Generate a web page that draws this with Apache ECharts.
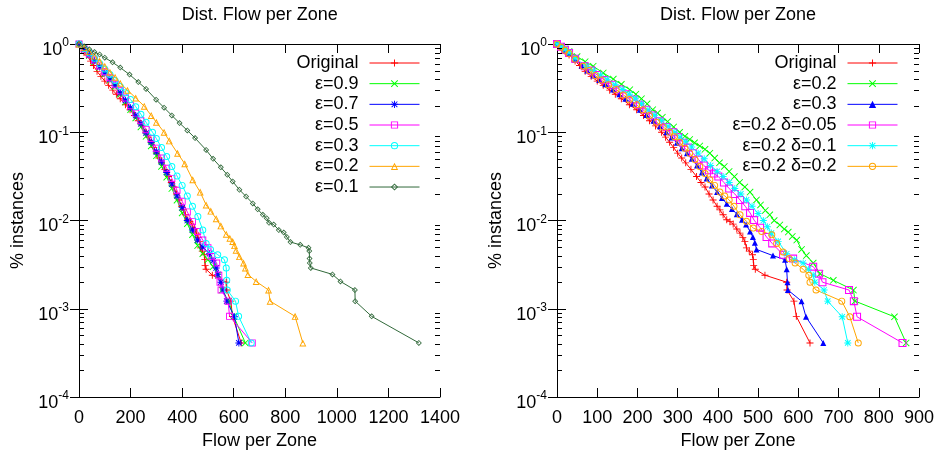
<!DOCTYPE html>
<html><head><meta charset="utf-8">
<script src="https://cdn.jsdelivr.net/npm/echarts/dist/echarts.min.js"></script>
<style>html,body{margin:0;padding:0;background:#fff}#c{width:941px;height:452px}</style>
</head><body><div id="c"></div>
<script>
// ---------- data (x = flow per zone, y = fraction of instances) ----------
const titleText = 'Dist. Flow per Zone';
const xName = 'Flow per Zone';
const yName = '% instances';
const xTicksLeft = {min: 0, max: 1400, step: 200};
const xTicksRight = {min: 0, max: 900, step: 100};
const yRange = {min: 0.0001, max: 1};

const leftNames = ['Original', 'ε=0.9', 'ε=0.7', 'ε=0.5', 'ε=0.3', 'ε=0.2', 'ε=0.1'];
const rightNames = ['Original', 'ε=0.2', 'ε=0.3', 'ε=0.2 δ=0.05', 'ε=0.2 δ=0.1', 'ε=0.2 δ=0.2'];

const original = [[0,1.0],[10,0.91],[20,0.83],[30,0.75],[45,0.64],[56,0.57],[70,0.49],[85,0.43],[100,0.38],[115,0.34],[131,0.30],[145,0.27],[160,0.24],[180,0.205],[198,0.18],[215,0.155],[230,0.135],[245,0.118],[260,0.100],[270,0.088],[280,0.077],[290,0.067],[300,0.058],[310,0.051],[320,0.045],[333,0.038],[347,0.0315],[358,0.027],[368,0.024],[378,0.020],[388,0.0171],[398,0.0145],[405,0.0132],[413,0.0116],[422,0.0102],[430,0.0097],[438,0.0091],[447,0.0080],[455,0.0072],[462,0.0064],[467,0.0058],[471,0.0049],[478,0.0045],[486,0.0041],[488,0.0036],[489,0.0031],[493,0.0028],[517,0.0024],[571,0.0020],[572,0.00163],[589,0.00122],[595,0.00082],[629,0.00041]];

const eps09 = [[0,1],[20,0.86],[40,0.74],[60,0.63],[80,0.54],[100,0.46],[120,0.39],[140,0.33],[160,0.27],[180,0.22],[200,0.18],[220,0.145],[240,0.115],[260,0.090],[280,0.070],[300,0.054],[320,0.041],[340,0.031],[360,0.023],[380,0.017],[400,0.0122],[420,0.0092],[440,0.0069],[460,0.0052],[480,0.0042],[500,0.0036],[520,0.0030],[540,0.0024],[555,0.00163],[580,0.00122],[600,0.00082],[645,0.00041]];

const eps07 = [[0,1],[20,0.87],[40,0.75],[60,0.645],[80,0.55],[100,0.47],[120,0.40],[140,0.34],[160,0.28],[180,0.23],[200,0.19],[220,0.155],[240,0.125],[260,0.098],[280,0.077],[300,0.060],[320,0.046],[340,0.035],[360,0.026],[380,0.019],[400,0.014],[420,0.0100],[440,0.0078],[460,0.0060],[480,0.0050],[506,0.0042],[520,0.0035],[532,0.0029],[538,0.00245],[550,0.0020],[560,0.00163],[573,0.00122],[603,0.00081],[620,0.00041]];

const eps05 = [[0,1],[20,0.88],[40,0.77],[60,0.66],[80,0.565],[100,0.485],[120,0.415],[140,0.35],[160,0.295],[180,0.245],[200,0.20],[220,0.165],[240,0.135],[260,0.107],[280,0.085],[300,0.066],[320,0.051],[340,0.039],[360,0.030],[380,0.022],[400,0.0165],[420,0.0125],[440,0.0097],[460,0.0075],[480,0.0060],[500,0.0049],[513,0.0039],[534,0.0033],[542,0.0024],[547,0.0020],[551,0.00163],[578,0.00122],[584,0.00082],[672,0.00041]];

const eps03 = [[0,1],[20,0.89],[40,0.79],[60,0.69],[80,0.60],[100,0.52],[120,0.45],[140,0.385],[160,0.33],[180,0.28],[200,0.235],[220,0.195],[240,0.16],[260,0.13],[285,0.10],[300,0.085],[320,0.067],[340,0.053],[360,0.041],[380,0.032],[400,0.025],[420,0.019],[440,0.0145],[461,0.0111],[480,0.0078],[493,0.0055],[510,0.0047],[538,0.0041],[564,0.0036],[571,0.0029],[573,0.0021],[575,0.00163],[607,0.00122],[619,0.00082],[668,0.00041]];

const eps02 = [[0,1],[20,0.91],[40,0.82],[60,0.73],[80,0.64],[100,0.56],[120,0.48],[140,0.42],[160,0.36],[188,0.30],[220,0.245],[253,0.197],[280,0.155],[300,0.13],[330,0.10],[350,0.08],[382,0.058],[410,0.044],[441,0.029],[470,0.021],[493,0.0150],[511,0.0128],[532,0.0105],[550,0.0087],[571,0.0070],[585,0.0063],[596,0.0058],[603,0.0052],[609,0.0046],[622,0.0039],[638,0.0033],[645,0.0029],[655,0.00245],[687,0.00204],[735,0.00163],[741,0.00122],[838,0.00082],[868,0.00041]];

const eps01 = [[0,1],[20,0.94],[40,0.87],[60,0.81],[80,0.76],[100,0.70],[130,0.62],[160,0.54],[196,0.45],[230,0.37],[260,0.31],[299,0.234],[330,0.19],[360,0.155],[390,0.127],[420,0.105],[450,0.086],[493,0.063],[520,0.050],[550,0.040],[575,0.033],[596,0.0277],[622,0.0223],[648,0.0187],[674,0.0156],[693,0.0134],[713,0.0116],[728,0.0106],[737,0.0094],[755,0.0090],[775,0.0078],[794,0.0073],[806,0.0065],[820,0.0057],[858,0.0053],[890,0.0049],[893,0.0045],[894,0.0037],[895,0.0033],[899,0.0029],[983,0.00245],[1014,0.00204],[1070,0.00163],[1071,0.00122],[1135,0.00082],[1318,0.00041]];

const rEps02 = [[0,1.0],[10,0.94],[20,0.88],[30,0.82],[50,0.72],[70,0.63],[90,0.56],[115,0.47],[140,0.40],[160,0.35],[181,0.304],[196,0.27],[210,0.24],[224,0.21],[238,0.18],[250,0.165],[262,0.148],[275,0.132],[290,0.115],[305,0.100],[318,0.090],[330,0.083],[342,0.076],[355,0.070],[368,0.064],[380,0.058],[392,0.051],[404,0.045],[416,0.041],[428,0.036],[441,0.0315],[454,0.027],[467,0.024],[480,0.021],[496,0.0171],[506,0.015],[518,0.013],[529,0.0116],[540,0.0100],[554,0.0089],[565,0.0080],[575,0.0074],[585,0.0066],[596,0.0060],[608,0.0047],[620,0.0040],[637,0.0033],[654,0.0025],[687,0.0021],[737,0.00163],[741,0.00122],[839,0.00081],[868,0.00041]];

const rEps03 = [[0,1.0],[10,0.92],[20,0.84],[30,0.77],[45,0.66],[61,0.57],[75,0.50],[90,0.44],[105,0.39],[120,0.35],[139,0.305],[155,0.27],[170,0.24],[188,0.21],[206,0.18],[222,0.157],[240,0.135],[256,0.117],[272,0.100],[285,0.087],[298,0.076],[310,0.066],[323,0.058],[335,0.050],[348,0.042],[360,0.035],[372,0.030],[385,0.025],[398,0.021],[410,0.018],[422,0.0155],[435,0.0135],[447,0.0118],[460,0.0102],[470,0.0090],[480,0.0075],[487,0.0065],[492,0.0056],[496,0.0047],[537,0.0040],[567,0.0036],[571,0.0028],[573,0.0020],[574,0.00163],[608,0.00122],[619,0.00081],[662,0.00041]];

const rD005 = [[0,1.0],[10,0.93],[20,0.86],[30,0.79],[45,0.68],[69,0.56],[85,0.50],[100,0.445],[118,0.39],[137,0.345],[156,0.305],[172,0.27],[190,0.235],[206,0.205],[222,0.18],[238,0.155],[255,0.133],[272,0.115],[289,0.100],[301,0.088],[314,0.076],[326,0.067],[338,0.058],[352,0.049],[365,0.042],[378,0.037],[390,0.034],[401,0.0315],[415,0.027],[428,0.023],[442,0.020],[455,0.0171],[468,0.0145],[480,0.0122],[490,0.0101],[505,0.0083],[521,0.0065],[535,0.0055],[562,0.0041],[587,0.0037],[637,0.0030],[651,0.0025],[660,0.0020],[726,0.00163],[738,0.00122],[746,0.00081],[859,0.00041]];

const rD01 = [[0,1.0],[10,0.93],[20,0.87],[30,0.80],[45,0.69],[73,0.56],[90,0.50],[108,0.445],[125,0.395],[145,0.345],[164,0.305],[180,0.27],[195,0.24],[210,0.21],[226,0.18],[243,0.156],[260,0.135],[276,0.117],[293,0.100],[306,0.088],[320,0.078],[335,0.068],[351,0.058],[366,0.050],[382,0.042],[398,0.036],[413,0.0315],[428,0.027],[442,0.023],[457,0.020],[471,0.0171],[485,0.0145],[500,0.012],[513,0.0100],[523,0.0085],[533,0.0072],[550,0.0058],[571,0.0042],[590,0.0036],[612,0.0033],[625,0.0028],[637,0.0024],[641,0.0020],[664,0.00163],[673,0.00122],[709,0.00081],[723,0.00041]];

const rD02 = [[0,1.0],[10,0.92],[20,0.85],[30,0.78],[45,0.67],[65,0.56],[80,0.50],[95,0.44],[110,0.39],[128,0.345],[147,0.305],[165,0.265],[180,0.235],[198,0.205],[214,0.18],[230,0.155],[248,0.13],[264,0.115],[280,0.100],[292,0.089],[305,0.077],[318,0.066],[330,0.058],[343,0.049],[355,0.041],[368,0.034],[380,0.029],[392,0.025],[405,0.021],[417,0.019],[428,0.0171],[440,0.0145],[455,0.0116],[471,0.0098],[488,0.0082],[509,0.0075],[534,0.0069],[546,0.0055],[562,0.0044],[577,0.0037],[592,0.0033],[612,0.0028],[626,0.0024],[629,0.0020],[644,0.00163],[708,0.00122],[728,0.00081],[749,0.00041]];

// ---------- styling ----------
const FONT = 'Liberation Sans, Arial, sans-serif';
const C = {red:'#ff0000', green:'#00ff00', blue:'#0000ff', magenta:'#ff00ff', cyan:'#00ffff', orange:'#ffa500', dgreen:'#31693a'};
const SYM = {
  plus: 'path://M0,4.35H10V5.65H0Z M4.35,0H5.65V10H4.35Z',
  cross: 'path://M0,0.92L0.92,0L10,9.08L9.08,10Z M9.08,0L10,0.92L0.92,10L0,9.08Z',
  star: 'path://M0,4.35H10V5.65H0Z M4.35,0H5.65V10H4.35Z M0.6,1.52L1.52,0.6L9.4,8.48L8.48,9.4Z M8.48,0.6L9.4,1.52L1.52,9.4L0.6,8.48Z',
  square: 'path://M0,0H10V10H0Z M1.3,1.3V8.7H8.7V1.3Z',
  circle: 'path://M0,5A5,5,0,0,1,10,5A5,5,0,0,1,0,5Z M1.4,5A3.6,3.6,0,0,0,8.6,5A3.6,3.6,0,0,0,1.4,5Z',
  triangle: 'path://M5,0L10,10L0,10Z M5,2.91L2.1,8.7L7.9,8.7Z',
  triFill: 'triangle',
  diamond: 'path://M5,0L10,5L5,10L0,5Z M5,1.84L1.84,5L5,8.16L8.16,5Z'
};

function lineSeries(name, data, color, symbol, size, gi) {
  return {
    type: 'line', name: name, data: data,
    xAxisIndex: gi * 2, yAxisIndex: gi * 2,
    symbol: symbol, symbolSize: size, showSymbol: true, showAllSymbol: true,
    lineStyle: {color: color, width: 1},
    itemStyle: {color: color, borderWidth: 0},
    emphasis: {disabled: true}, animation: false, z: 2
  };
}

function minorTicks(gi, xmin, xmax) {
  const d = [];
  for (let e = -4; e < 0; e++) for (let k = 2; k <= 9; k++) d.push([xmin, k * Math.pow(10, e)]);
  return {
    type: 'custom', xAxisIndex: gi * 2, yAxisIndex: gi * 2, silent: true, z: 6, clip: false, animation: false,
    data: d,
    renderItem: function (p, api) {
      const v = api.value(1);
      const a = api.coord([xmin, v]);
      const b = api.coord([xmax, v]);
      const y = Math.round(a[1]) + 0.5;
      return {type: 'group', children: [
        {type: 'line', shape: {x1: a[0], y1: y, x2: a[0] + 5, y2: y}, style: {stroke: '#000', lineWidth: 1}},
        {type: 'line', shape: {x1: b[0], y1: y, x2: b[0] - 5, y2: y}, style: {stroke: '#000', lineWidth: 1}}
      ]};
    }
  };
}

const axisLineStyle = {show: true, lineStyle: {color: '#000', width: 1}};
function xAxes(gi, t) {
  return [
    {type: 'value', gridIndex: gi, position: 'bottom', min: t.min, max: t.max, interval: t.step,
     axisLine: axisLineStyle, axisTick: {show: true, inside: true, length: 9, lineStyle: {color: '#000'}},
     splitLine: {show: false},
     axisLabel: {color: '#000', fontSize: 18, fontFamily: FONT, margin: 12,
       formatter: function (v) { return String(v); }},
     name: xName, nameLocation: 'middle', nameGap: 29,
     nameTextStyle: {color: '#000', fontSize: 18, fontFamily: FONT}},
    {type: 'value', gridIndex: gi, position: 'top', min: t.min, max: t.max, interval: t.step,
     axisLine: axisLineStyle, axisTick: {show: true, inside: true, length: 9, lineStyle: {color: '#000'}},
     splitLine: {show: false}, axisLabel: {show: false}}
  ];
}
function yAxes(gi) {
  return [
    {type: 'log', logBase: 10, gridIndex: gi, position: 'left', min: yRange.min, max: yRange.max,
     axisLine: axisLineStyle, axisTick: {show: true, inside: true, length: 9, lineStyle: {color: '#000'}},
     splitLine: {show: false}, minorTick: {show: false},
     axisLabel: {margin: 10, padding: [8, 0, 0, 0],
       formatter: function (v) { return '{b|10}{s|' + Math.round(Math.log10(v)) + '}'; },
       rich: {
         b: {fontSize: 18, lineHeight: 22, fontFamily: FONT, color: '#000', verticalAlign: 'bottom'},
         s: {fontSize: 12, lineHeight: 12, fontFamily: FONT, color: '#000', verticalAlign: 'top'}
       }},
     name: yName, nameLocation: 'middle', nameGap: 52,
     nameTextStyle: {color: '#000', fontSize: 18, fontFamily: FONT}},
    {type: 'log', logBase: 10, gridIndex: gi, position: 'right', min: yRange.min, max: yRange.max,
     axisLine: axisLineStyle, axisTick: {show: true, inside: true, length: 9, lineStyle: {color: '#000'}},
     splitLine: {show: false}, axisLabel: {show: false}}
  ];
}

const legendBase = {
  orient: 'vertical', align: 'right', itemWidth: 50, itemHeight: 9, itemGap: 0.67,
  padding: 0, selectedMode: false,
  lineStyle: {width: 1},
  textStyle: {color: '#000', fontSize: 18, fontFamily: FONT, lineHeight: 20, padding: [0, 6, 0, 0]}
};

const R = '|R';
const series = [
  lineSeries(leftNames[0], original, C.red, SYM.plus, 7, 0),
  lineSeries(leftNames[1], eps09, C.green, SYM.cross, 7, 0),
  lineSeries(leftNames[2], eps07, C.blue, SYM.star, 7, 0),
  lineSeries(leftNames[3], eps05, C.magenta, SYM.square, 7, 0),
  lineSeries(leftNames[4], eps03, C.cyan, SYM.circle, 7, 0),
  lineSeries(leftNames[5], eps02, C.orange, SYM.triangle, 7, 0),
  lineSeries(leftNames[6], eps01, C.dgreen, SYM.diamond, 6, 0),
  lineSeries(rightNames[0] + R, original, C.red, SYM.plus, 7, 1),
  lineSeries(rightNames[1] + R, rEps02, C.green, SYM.cross, 7, 1),
  lineSeries(rightNames[2] + R, rEps03, C.blue, SYM.triFill, 6, 1),
  lineSeries(rightNames[3] + R, rD005, C.magenta, SYM.square, 8, 1),
  lineSeries(rightNames[4] + R, rD01, C.cyan, SYM.star, 7, 1),
  lineSeries(rightNames[5] + R, rD02, C.orange, SYM.circle, 7, 1),
  minorTicks(0, xTicksLeft.min, xTicksLeft.max),
  minorTicks(1, xTicksRight.min, xTicksRight.max)
];

const option = {
  backgroundColor: '#fff',
  animation: false,
  title: [
    {text: titleText, left: 259.75, top: 6, textAlign: 'center', padding: 0,
     textStyle: {fontSize: 18, fontWeight: 'normal', color: '#000', fontFamily: FONT}},
    {text: titleText, left: 738, top: 6, textAlign: 'center', padding: 0,
     textStyle: {fontSize: 18, fontWeight: 'normal', color: '#000', fontFamily: FONT}}
  ],
  grid: [
    {left: 79, right: 501, top: 44, bottom: 55, outerBoundsMode: 'none', containLabel: false},
    {left: 557, right: 22, top: 44, bottom: 55, outerBoundsMode: 'none', containLabel: false}
  ],
  xAxis: xAxes(0, xTicksLeft).concat(xAxes(1, xTicksRight)),
  yAxis: yAxes(0).concat(yAxes(1)),
  legend: [
    Object.assign({}, legendBase, {data: leftNames, right: 521, top: 53}),
    Object.assign({}, legendBase, {data: rightNames.map(function (n) { return n + R; }), right: 43, top: 53,
      formatter: function (n) { return n.split('|')[0]; }})
  ],
  series: series
};

const chart = echarts.init(document.getElementById('c'), null, {renderer: 'canvas'});
chart.setOption(option);
</script></body></html>
